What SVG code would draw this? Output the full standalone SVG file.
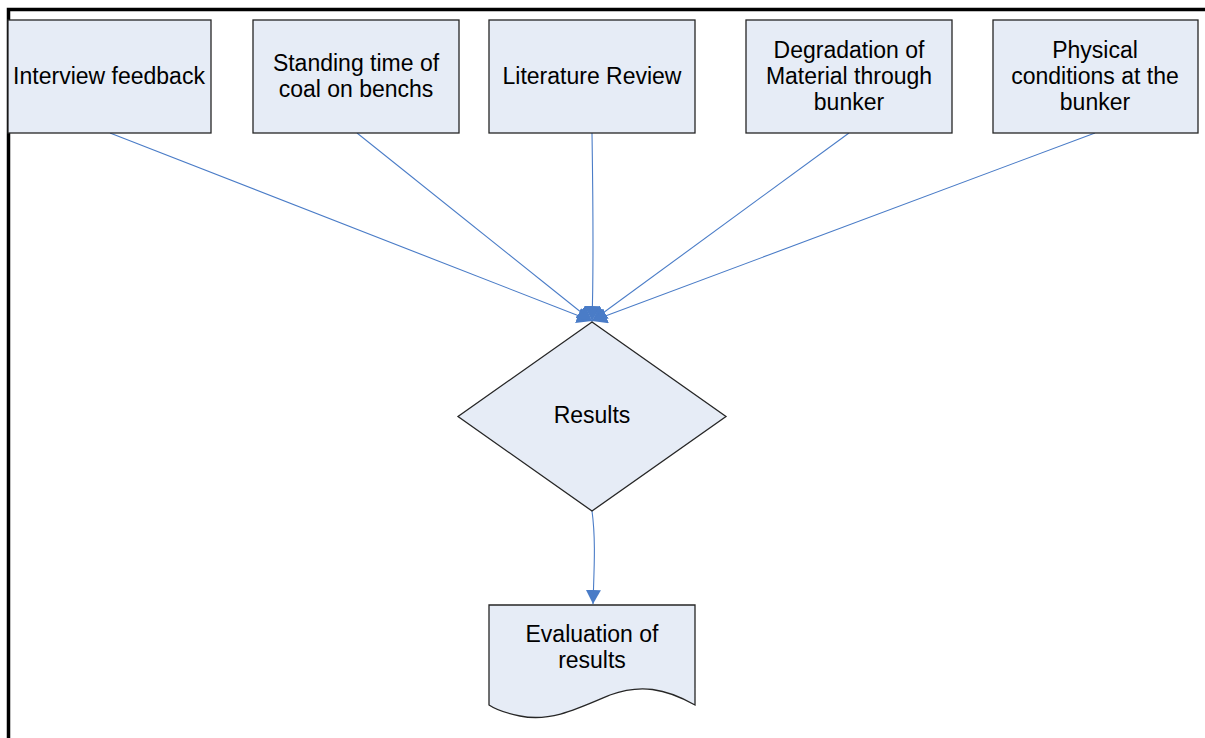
<svg xmlns="http://www.w3.org/2000/svg" width="1205" height="738" viewBox="0 0 1205 738">
<defs>
<style>
.box{fill:#E6ECF6;stroke:#262626;stroke-width:1.3}
.lbl{font-family:"Liberation Sans",Arial,sans-serif;font-size:23px;fill:#000;text-anchor:middle}
.con{fill:none;stroke:#4A7CC7;stroke-width:1.1}
.frame{stroke:#000;stroke-width:3.5;fill:none}
</style>
<marker id="ah" viewBox="0 0 15 16" refX="15" refY="8" markerWidth="15" markerHeight="16" markerUnits="userSpaceOnUse" orient="auto">
<path d="M0,0 L15,8 L0,16 Z" fill="#4A7CC7"/>
</marker>
<marker id="ah2" viewBox="0 0 14 15" refX="14" refY="7.5" markerWidth="14" markerHeight="15" markerUnits="userSpaceOnUse" orient="auto">
<path d="M0,0 L14,7.5 L0,15 Z" fill="#4A7CC7"/>
</marker>
</defs>
<rect width="1205" height="738" fill="#fff"/>
<g id="frame">
<path class="frame" d="M8.5,738 V9.5 H1205"/>
</g>
<g id="connectors">
<path class="con" d="M110,133 L592,321" marker-end="url(#ah)"/>
<path class="con" d="M357,133 L592,321" marker-end="url(#ah)"/>
<path class="con" d="M592,133 C593,200 594,260 592,321" marker-end="url(#ah)"/>
<path class="con" d="M849,133 L592,321" marker-end="url(#ah)"/>
<path class="con" d="M1095,133 L592,321" marker-end="url(#ah)"/>
<path class="con" d="M592,511 C596,540 594,570 593,604" marker-end="url(#ah2)"/>
</g>
<g id="n1">
<rect class="box" x="8" y="20" width="203" height="113"/>
<text class="lbl" x="109" y="84">Interview feedback</text>
</g>
<g id="n2">
<rect class="box" x="253" y="20" width="206" height="113"/>
<text class="lbl" x="356" y="71">Standing time of</text>
<text class="lbl" x="356" y="97">coal on benchs</text>
</g>
<g id="n3">
<rect class="box" x="489" y="20" width="206" height="113"/>
<text class="lbl" x="592" y="84">Literature Review</text>
</g>
<g id="n4">
<rect class="box" x="746" y="20" width="206" height="113"/>
<text class="lbl" x="849" y="58">Degradation of</text>
<text class="lbl" x="849" y="84">Material through</text>
<text class="lbl" x="849" y="110">bunker</text>
</g>
<g id="n5">
<rect class="box" x="993" y="20" width="205" height="113"/>
<text class="lbl" x="1095" y="58">Physical</text>
<text class="lbl" x="1095" y="84">conditions at the</text>
<text class="lbl" x="1095" y="110">bunker</text>
</g>
<g id="results">
<polygon class="box" points="592,322 726,416.5 592,511 458,416.5"/>
<text class="lbl" x="592" y="423">Results</text>
</g>
<g id="evaluation">
<path class="box" d="M489,605 H695 V705 C665,688 640,684 610,695 C575,710 550,722 520,716 C505,713 495,709 489,705 Z"/>
<text class="lbl" x="592" y="642">Evaluation of</text>
<text class="lbl" x="592" y="668">results</text>
</g>
</svg>
